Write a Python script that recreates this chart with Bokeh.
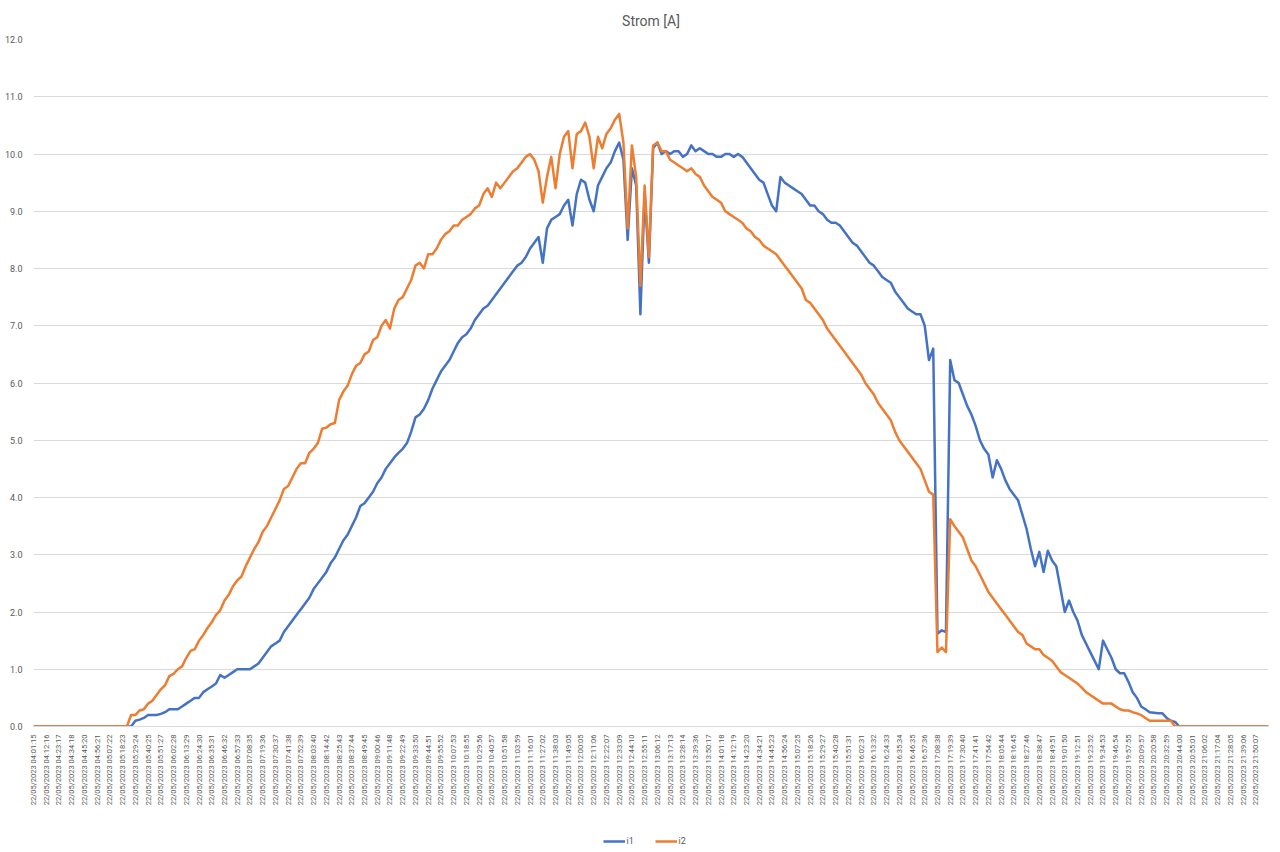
import math
from bokeh.plotting import figure
from bokeh.layouts import column
from bokeh.models import Range1d, FixedTicker, Legend, LegendItem, NumeralTickFormatter
from bokeh.embed import file_html
from bokeh.resources import INLINE

DATE = "22/05/2023"
TIMES = [
    "04:01:15", "04:12:16", "04:23:17", "04:34:18", "04:45:20", "04:56:21", "05:07:22", "05:18:23",
    "05:29:24", "05:40:25", "05:51:27", "06:02:28", "06:13:29", "06:24:30", "06:35:31", "06:46:32",
    "06:57:33", "07:08:35", "07:19:36", "07:30:37", "07:41:38", "07:52:39", "08:03:40", "08:14:42",
    "08:25:43", "08:37:44", "08:49:45", "09:00:46", "09:11:48", "09:22:49", "09:33:50", "09:44:51",
    "09:55:52", "10:07:53", "10:18:55", "10:29:56", "10:40:57", "10:51:58", "11:03:59", "11:16:01",
    "11:27:02", "11:38:03", "11:49:05", "12:00:05", "12:11:06", "12:22:07", "12:33:09", "12:44:10",
    "12:55:11", "13:06:12", "13:17:13", "13:28:14", "13:39:36", "13:50:17", "14:01:18", "14:12:19",
    "14:23:20", "14:34:21", "14:45:23", "14:56:24", "15:07:25", "15:18:26", "15:29:27", "15:40:28",
    "15:51:31", "16:02:31", "16:13:32", "16:24:33", "16:35:34", "16:46:35", "16:57:36", "17:08:38",
    "17:19:39", "17:30:40", "17:41:41", "17:54:42", "18:05:44", "18:16:45", "18:27:46", "18:38:47",
    "18:49:51", "19:01:50", "19:12:51", "19:23:52", "19:34:53", "19:46:54", "19:57:55", "20:09:57",
    "20:20:58", "20:32:59", "20:44:00", "20:55:01", "21:06:02", "21:17:04", "21:28:05", "21:39:06",
    "21:50:07",
]
SAMPLES_PER_LABEL = 3
SERIES = ["i1", "i2"]

i1 = [
    0, 0, 0, 0, 0, 0, 0, 0, 0, 0,
    0, 0, 0, 0, 0, 0, 0, 0, 0, 0,
    0, 0, 0, 0, 0.1, 0.12, 0.15, 0.2, 0.2, 0.2,
    0.22, 0.25, 0.3, 0.3, 0.3, 0.35, 0.4, 0.45, 0.5, 0.5,
    0.6, 0.65, 0.7, 0.75, 0.9, 0.85, 0.9, 0.95, 1.0, 1.0,
    1.0, 1.0, 1.05, 1.1, 1.2, 1.3, 1.4, 1.45, 1.5, 1.65,
    1.75, 1.85, 1.95, 2.05, 2.15, 2.25, 2.4, 2.5, 2.6, 2.7,
    2.85, 2.95, 3.1, 3.25, 3.35, 3.5, 3.65, 3.85, 3.9, 4.0,
    4.1, 4.25, 4.35, 4.5, 4.6, 4.7, 4.78, 4.85, 4.95, 5.15,
    5.4, 5.45, 5.55, 5.7, 5.9, 6.05, 6.2, 6.3, 6.4, 6.55,
    6.7, 6.8, 6.85, 6.95, 7.1, 7.2, 7.3, 7.35, 7.45, 7.55,
    7.65, 7.75, 7.85, 7.95, 8.05, 8.1, 8.2, 8.35, 8.45, 8.55,
    8.1, 8.7, 8.85, 8.9, 8.95, 9.1, 9.2, 8.75, 9.3, 9.55,
    9.5, 9.2, 9.0, 9.45, 9.6, 9.75, 9.85, 10.05, 10.2, 9.9,
    8.5, 9.75, 9.45, 7.2, 9.3, 8.1, 10.1, 10.2, 10.0, 10.05,
    10.0, 10.05, 10.05, 9.95, 10.0, 10.15, 10.05, 10.1, 10.05, 10.0,
    10.0, 9.95, 9.95, 10.0, 10.0, 9.95, 10.0, 9.95, 9.85, 9.75,
    9.65, 9.55, 9.5, 9.3, 9.1, 9.0, 9.6, 9.5, 9.45, 9.4,
    9.35, 9.3, 9.2, 9.1, 9.1, 9.0, 8.95, 8.85, 8.8, 8.8,
    8.75, 8.65, 8.55, 8.45, 8.4, 8.3, 8.2, 8.1, 8.05, 7.95,
    7.85, 7.8, 7.75, 7.6, 7.5, 7.4, 7.3, 7.25, 7.2, 7.2,
    7.0, 6.4, 6.6, 1.62, 1.68, 1.65, 6.4, 6.05, 6.0, 5.8,
    5.6, 5.45, 5.25, 5.0, 4.85, 4.75, 4.35, 4.65, 4.5, 4.3,
    4.15, 4.05, 3.95, 3.7, 3.45, 3.1, 2.8, 3.05, 2.7, 3.07,
    2.9, 2.8, 2.4, 2.0, 2.2, 2.0, 1.85, 1.6, 1.45, 1.3,
    1.15, 1.0, 1.5, 1.35, 1.2, 1.0, 0.93, 0.93, 0.78, 0.6,
    0.5, 0.35, 0.3, 0.25, 0.24, 0.23, 0.23, 0.15, 0.1, 0.08,
    0, 0, 0, 0, 0, 0, 0, 0, 0, 0,
    0, 0, 0, 0, 0, 0, 0, 0, 0, 0,
    0, 0,
]

i2 = [
    0, 0, 0, 0, 0, 0, 0, 0, 0, 0,
    0, 0, 0, 0, 0, 0, 0, 0, 0, 0,
    0, 0, 0, 0.2, 0.2, 0.28, 0.3, 0.4, 0.45, 0.55,
    0.65, 0.72, 0.88, 0.92, 1.0, 1.05, 1.2, 1.32, 1.35, 1.5,
    1.6, 1.72, 1.82, 1.95, 2.03, 2.2, 2.3, 2.45, 2.55, 2.62,
    2.8, 2.95, 3.1, 3.22, 3.4, 3.5, 3.65, 3.8, 3.95, 4.15,
    4.2, 4.35, 4.5, 4.6, 4.6, 4.78, 4.85, 4.95, 5.2, 5.22,
    5.28, 5.3, 5.7, 5.85, 5.95, 6.15, 6.3, 6.35, 6.5, 6.55,
    6.75, 6.8, 7.0, 7.1, 6.95, 7.3, 7.45, 7.5, 7.65, 7.8,
    8.05, 8.1, 8.0, 8.25, 8.25, 8.35, 8.5, 8.6, 8.65, 8.75,
    8.75, 8.85, 8.9, 8.95, 9.05, 9.1, 9.3, 9.4, 9.25, 9.5,
    9.4, 9.5, 9.6, 9.7, 9.75, 9.85, 9.95, 10.0, 9.9, 9.7,
    9.15, 9.6, 9.95, 9.4, 10.0, 10.3, 10.4, 9.75, 10.35, 10.4,
    10.55, 10.3, 9.75, 10.3, 10.1, 10.35, 10.45, 10.6, 10.7, 10.2,
    8.7, 10.15, 9.6, 7.7, 9.45, 8.2, 10.15, 10.2, 10.05, 10.05,
    9.9, 9.85, 9.8, 9.75, 9.7, 9.75, 9.65, 9.6, 9.45, 9.35,
    9.25, 9.2, 9.15, 9.0, 8.95, 8.9, 8.85, 8.8, 8.7, 8.65,
    8.55, 8.5, 8.4, 8.35, 8.3, 8.25, 8.15, 8.05, 7.95, 7.85,
    7.75, 7.65, 7.45, 7.4, 7.3, 7.2, 7.1, 6.95, 6.85, 6.75,
    6.65, 6.55, 6.45, 6.35, 6.25, 6.15, 6.0, 5.9, 5.8, 5.65,
    5.55, 5.45, 5.35, 5.15, 5.0, 4.9, 4.8, 4.7, 4.6, 4.5,
    4.3, 4.1, 4.05, 1.3, 1.38, 1.3, 3.62, 3.5, 3.4, 3.3,
    3.1, 2.9, 2.8, 2.65, 2.5, 2.35, 2.25, 2.15, 2.05, 1.95,
    1.85, 1.75, 1.65, 1.6, 1.45, 1.4, 1.35, 1.35, 1.25, 1.2,
    1.15, 1.05, 0.95, 0.9, 0.85, 0.8, 0.75, 0.68, 0.6, 0.55,
    0.5, 0.45, 0.4, 0.4, 0.4, 0.35, 0.3, 0.28, 0.28, 0.25,
    0.23, 0.2, 0.15, 0.1, 0.1, 0.1, 0.1, 0.1, 0.1, 0,
    0, 0, 0, 0, 0, 0, 0, 0, 0, 0,
    0, 0, 0, 0, 0, 0, 0, 0, 0, 0,
    0, 0,
]

Y_TICKS = [0, 1, 2, 3, 4, 5, 6, 7, 8, 9, 10, 11, 12]

FONT = "Roboto"
GREY = "#595959"
BLUE = "#4472C4"
ORANGE = "#ED7D31"

n = max(len(i1), len(i2))
p = figure(
    width=1272, height=830,
    output_backend="svg", toolbar_location=None,
    x_range=Range1d(0, n - 1), y_range=Range1d(0, Y_TICKS[-1]),
    min_border_left=33, min_border_right=4, min_border_top=39, min_border_bottom=104,
)
p.title.text = "Strom [A]"
p.title.align = "center"
p.title.vertical_align = "top"
p.title.text_font = FONT
p.title.text_font_size = "14px"
p.title.text_font_style = "normal"
p.title.text_color = GREY
p.title.standoff = 17

p.outline_line_color = None
p.background_fill_color = "white"
p.border_fill_color = "white"

p.line(list(range(len(i1))), i1, line_color=BLUE, line_width=2.5, line_join="round")
p.line(list(range(len(i2))), i2, line_color=ORANGE, line_width=2.5, line_join="round")

# x axis
xticks = [SAMPLES_PER_LABEL * k for k in range(len(TIMES))]
p.xaxis.ticker = FixedTicker(ticks=xticks)
p.xaxis.major_label_overrides = {t: f"{DATE} {s}" for t, s in zip(xticks, TIMES)}
p.xaxis.major_label_orientation = math.pi / 2
p.xaxis.major_label_text_font = FONT
p.xaxis.major_label_text_font_size = "7.5px"
p.xaxis.major_label_text_color = GREY
p.xaxis.major_tick_line_color = None
p.xaxis.minor_tick_line_color = None
p.xaxis.axis_line_color = "#d9d9d9"
p.xaxis.major_label_standoff = 2

# y axis
p.yaxis.ticker = FixedTicker(ticks=Y_TICKS)
p.yaxis.formatter = NumeralTickFormatter(format="0.0")
p.yaxis.major_label_text_font = FONT
p.yaxis.major_label_text_font_size = "9px"
p.yaxis.major_label_text_color = GREY
p.yaxis.major_tick_line_color = None
p.yaxis.minor_tick_line_color = None
p.yaxis.axis_line_color = None
p.yaxis.major_label_standoff = 5

p.xgrid.grid_line_color = None
p.ygrid.grid_line_color = "#d9d9d9"
p.ygrid.grid_line_width = 1

# legend strip below the chart (keys only, no data drawn)
lg = figure(
    width=1272, height=22, output_backend="svg", toolbar_location=None,
    x_range=Range1d(0, 1), y_range=Range1d(0, 1), min_border=0,
)
lg.axis.visible = False
lg.grid.visible = False
lg.outline_line_color = None
lg.background_fill_color = "white"
lg.border_fill_color = "white"
nan = float("nan")
k1 = lg.line([nan, nan], [nan, nan], line_color=BLUE, line_width=2.5)
k2 = lg.line([nan, nan], [nan, nan], line_color=ORANGE, line_width=2.5)
legend = Legend(
    items=[LegendItem(label=SERIES[0], renderers=[k1]), LegendItem(label=SERIES[1], renderers=[k2])],
    orientation="horizontal", location="center",
    label_text_font=FONT, label_text_font_size="9px", label_text_color=GREY,
    glyph_width=22, glyph_height=10, spacing=8, padding=2, margin=0,
    label_standoff=2,
    border_line_color=None, background_fill_alpha=0,
)
lg.add_layout(legend, "center")

layout = column(p, lg, spacing=0)
open("out.html", "w").write(file_html(layout, INLINE))
